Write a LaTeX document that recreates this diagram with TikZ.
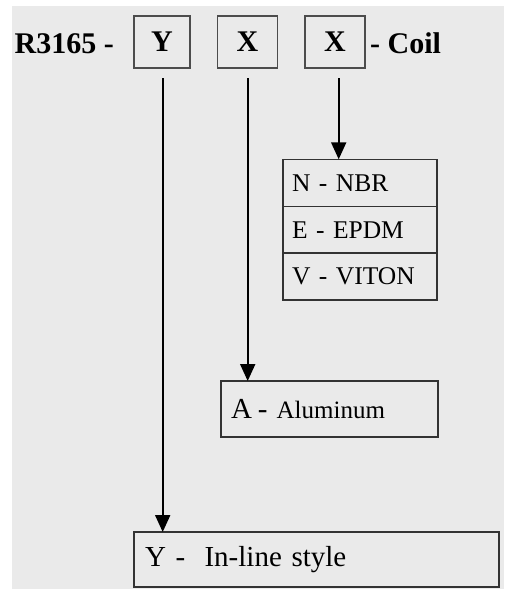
\documentclass[tikz,border=0pt]{standalone}
\usepackage{fontspec}
\setmainfont{Liberation Serif}
\usetikzlibrary{arrows.meta}
\definecolor{bg}{HTML}{EAEAEA}
\definecolor{edge}{HTML}{333333}
\tikzset{
  box/.style={draw=edge, line width=1.3pt, inner sep=0pt, outer sep=0pt},
  codebox/.style={box, draw=black!70, minimum height=52pt, font=\fontsize{30}{32}\selectfont\bfseries},
  listbox/.style={box, minimum width=154pt, minimum height=47pt, text width=136pt, align=left, font=\fontsize{25.5}{27}\selectfont},
  arr/.style={line width=2pt, -{Triangle[width=15pt,length=17pt]}},
  toptext/.style={inner sep=0pt, font=\fontsize{30}{32}\selectfont\bfseries}
}
\begin{document}
\begin{tikzpicture}[x=1pt,y=-1pt]
\useasboundingbox (0,0) rectangle (504,589);
\fill[bg] (12,6) rectangle (504,589);
% top row
\node[toptext, anchor=base east] (pre) at (114,53) {R3165 -};
\node[codebox, minimum width=56pt] (yb) at (162,42) {Y};
\node[codebox, minimum width=60pt] (xb1) at (247.5,42) {X};
\node[codebox, minimum width=60pt] (xb2) at (335,42) {X};
\node[toptext, anchor=base west] (coil) at (370,53) {- Coil};
% materials list
\node[listbox] (nbr) at (360,182.8) {N - NBR};
\node[listbox] (epdm) at (360,229.9) {E - EPDM};
\node[listbox] (viton) at (360,276.5) {V - VITON};
% aluminum
\node[box, minimum width=217pt, minimum height=56pt, text width=197pt, align=left] (alu) at (329.5,409)
  {\fontsize{29}{31}\selectfont A\hspace{6pt}-\hspace{9pt}\fontsize{25}{27}\selectfont Aluminum};
% in-line
\node[box, minimum width=365pt, minimum height=55pt, text width=343pt, align=left, font=\fontsize{29}{31}\selectfont] (inl) at (316.5,559.5)
  {Y -\ \ In-line style};
% arrows
\coordinate (s1) at (162.7,78);
\coordinate (s2) at (247.7,78);
\coordinate (s3) at (338.7,78);
\draw[arr] (s1) -- (s1 |- inl.north);
\draw[arr] (s2) -- (s2 |- alu.north);
\draw[arr] (s3) -- (s3 |- nbr.north);
\end{tikzpicture}
\end{document}
